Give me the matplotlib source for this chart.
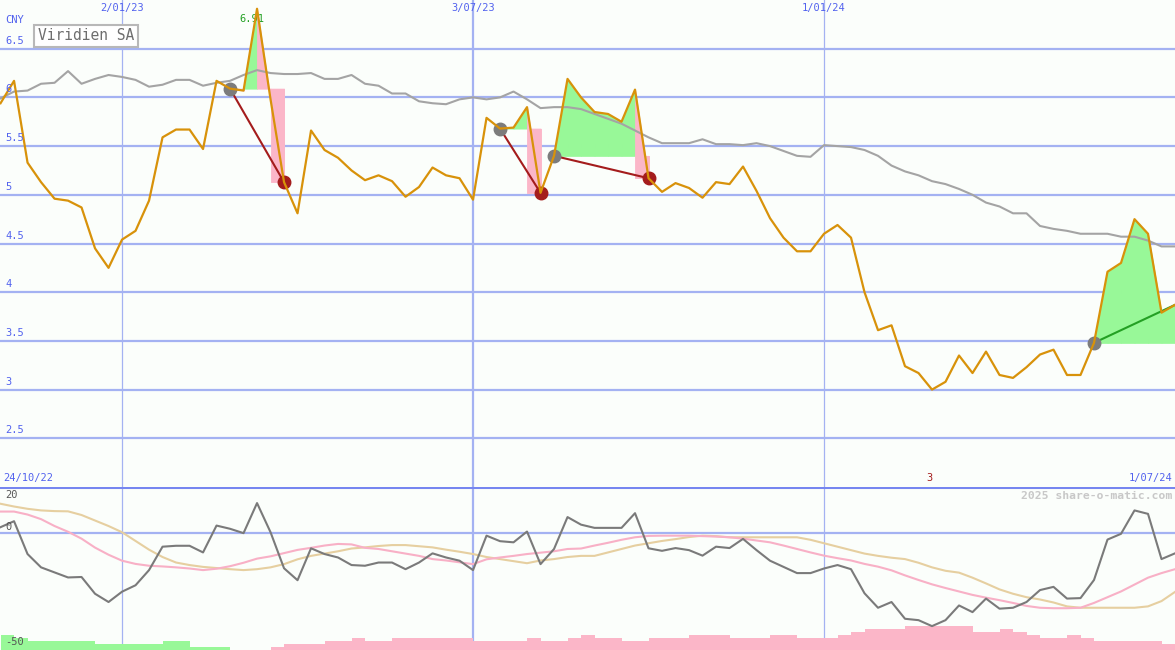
import numpy as np
import matplotlib.pyplot as plt
from matplotlib.transforms import blended_transform_factory

# weekly closes, CNY (index 0 = left edge of chart)
price = [5.94, 6.17, 5.33, 5.13, 4.96, 4.94, 4.87, 4.45, 4.25, 4.54,
         4.63, 4.94, 5.59, 5.67, 5.67, 5.47, 6.17, 6.09, 6.07, 6.91,
         5.98, 5.13, 4.81, 5.66, 5.46, 5.38, 5.25, 5.15, 5.20, 5.14,
         4.98, 5.08, 5.28, 5.20, 5.17, 4.95, 5.79, 5.68, 5.69, 5.90,
         5.02, 5.40, 6.19, 6.00, 5.85, 5.83, 5.75, 6.08, 5.17, 5.03,
         5.12, 5.07, 4.97, 5.13, 5.11, 5.29, 5.04, 4.76, 4.56, 4.42,
         4.42, 4.60, 4.69, 4.56, 4.00, 3.61, 3.66, 3.24, 3.17, 3.00,
         3.08, 3.35, 3.17, 3.39, 3.15, 3.12, 3.23, 3.36, 3.41, 3.15,
         3.15, 3.48, 4.21, 4.30, 4.75, 4.60, 3.79, 3.87]

# long moving average (grey)
ma = [5.99, 6.06, 6.07, 6.14, 6.15, 6.27, 6.14, 6.19, 6.23, 6.21,
      6.18, 6.11, 6.13, 6.18, 6.18, 6.12, 6.15, 6.17, 6.23, 6.28,
      6.25, 6.24, 6.24, 6.25, 6.19, 6.19, 6.23, 6.14, 6.12, 6.04,
      6.04, 5.96, 5.94, 5.93, 5.98, 6.00, 5.98, 6.00, 6.06, 5.98,
      5.89, 5.90, 5.90, 5.88, 5.83, 5.78, 5.73, 5.66, 5.59, 5.53,
      5.53, 5.53, 5.57, 5.52, 5.52, 5.51, 5.53, 5.50, 5.45, 5.40,
      5.39, 5.51, 5.50, 5.49, 5.46, 5.40, 5.30, 5.24, 5.20, 5.14,
      5.11, 5.06, 5.00, 4.92, 4.88, 4.81, 4.81, 4.68, 4.65, 4.63,
      4.60, 4.60, 4.60, 4.57, 4.57, 4.53, 4.47, 4.47]

# lower panel: oscillator and its two averages
osc = [2.5, 5.1, -9.2, -15.0, -17.2, -19.4, -19.2, -26.5, -30.1, -25.6,
       -22.8, -16.2, -6.0, -5.6, -5.6, -8.5, 3.2, 1.8, -0.1, 13.0,
       0.3, -15.4, -20.6, -6.7, -9.2, -10.7, -14.0, -14.3, -12.9, -12.9,
       -15.8, -12.9, -8.9, -10.7, -12.1, -16.2, -1.2, -3.6, -4.1, 0.6,
       -13.6, -7.0, 6.9, 3.6, 2.2, 2.2, 2.2, 8.6, -6.7, -7.8,
       -6.6, -7.5, -9.9, -6.0, -6.6, -2.6, -7.5, -12.1, -14.8, -17.5,
       -17.5, -15.5, -14.0, -15.8, -26.3, -32.6, -30.1, -37.4, -38.0, -40.6,
       -38.0, -31.6, -34.5, -28.6, -33.0, -32.6, -30.1, -24.9, -23.5, -28.6,
       -28.4, -20.5, -2.9, -0.4, 9.8, 8.3, -11.4, -8.9]

osc_pink = [9.3, 9.3, 8.0, 6.0, 3.0, 0.5, -2.5, -6.4, -9.5, -12.1,
            -13.5, -14.3, -14.6, -15.0, -15.5, -16.2, -15.6, -14.5, -13.0, -11.2,
            -10.2, -8.8, -7.4, -6.5, -5.5, -4.8, -5.0, -6.5, -7.0, -8.0,
            -9.0, -10.0, -11.4, -12.0, -12.8, -13.6, -11.5, -10.7, -10.0, -9.2,
            -8.6, -8.0, -7.0, -6.8, -5.5, -4.3, -3.0, -1.9, -1.3, -1.2,
            -1.2, -1.2, -1.4, -1.6, -1.9, -2.5, -3.3, -4.1, -5.5, -7.0,
            -8.5, -9.9, -11.0, -12.0, -13.5, -14.7, -16.3, -18.5, -20.5, -22.4,
            -24.0, -25.5, -27.0, -28.2, -29.3, -30.5, -31.8, -32.6, -32.8, -32.8,
            -32.6, -30.5, -28.0, -25.5, -22.5, -19.5, -17.5, -15.8]

osc_tan = [12.7, 11.5, 10.5, 9.8, 9.5, 9.4, 7.8, 5.4, 3.0, 0.3,
           -3.5, -7.3, -10.5, -12.9, -14.0, -14.8, -15.3, -15.8, -16.2, -15.8,
           -15.0, -13.6, -11.5, -10.0, -9.0, -8.0, -6.8, -6.3, -5.7, -5.3,
           -5.3, -5.8, -6.3, -7.3, -8.2, -9.2, -10.5, -11.4, -12.3, -13.2,
           -12.0, -11.4, -10.5, -10.0, -10.0, -8.5, -7.0, -5.5, -4.5, -3.5,
           -2.7, -1.8, -1.2, -1.4, -1.9, -1.9, -1.9, -1.9, -1.9, -1.9,
           -3.0, -4.5, -6.0, -7.5, -9.0, -10.0, -10.8, -11.4, -13.0, -15.0,
           -16.5, -17.3, -19.5, -22.0, -24.6, -26.5, -28.0, -29.0, -30.3, -32.0,
           -32.6, -32.6, -32.6, -32.6, -32.6, -32.0, -29.7, -25.7]

# bottom bars: positive = green, negative = pink
bar_level = [5, 4, 3, 3, 3, 3, 3, 2, 2, 2,
             2, 2, 3, 3, 1, 1, 1, 0, 0, 0,
             -1, -2, -2, -2, -3, -3, -4, -3, -3, -4,
             -4, -4, -4, -4, -4, -3, -3, -3, -3, -4,
             -3, -3, -4, -5, -4, -4, -3, -3, -4, -4,
             -4, -5, -5, -5, -4, -4, -4, -5, -5, -4,
             -4, -4, -5, -6, -7, -7, -7, -8, -8, -8,
             -8, -8, -6, -6, -7, -6, -5, -4, -4, -5,
             -4, -3, -3, -3, -3, -3, -2, -2]

date_pos = [9, 35, 61]
date_labels = ['2/01/23', '3/07/23', '1/01/24']
price_levels = [2.5, 3, 3.5, 4, 4.5, 5, 5.5, 6, 6.5]

# (entry week, exit week, first pink week)
closed_trades = [(17, 21, 19), (37, 40, 39), (41, 48, 47)]
open_trade = (81, 87)

BG = '#fbfefb'
GRID = '#a4b2f2'
BLUE_TXT = '#5262ee'
ORANGE = '#d8920a'
GREEN_F = '#98f898'
PINK_F = '#fbb6c8'
DKRED = '#a41c1c'
MONO = 'DejaVu Sans Mono'

x = np.arange(len(price))
price = np.array(price)

fig = plt.figure(figsize=(11.75, 6.5), dpi=100, facecolor=BG)
split = 163 / 650
ax = fig.add_axes([0, split, 1, 1 - split])
ax2 = fig.add_axes([0, 0, 1, split])
for a in (ax, ax2):
    a.set_facecolor(BG)
    a.set_xlim(-0.04, 87)
    a.set_xticks([])
    a.set_yticks([])
    for s in a.spines.values():
        s.set_visible(False)
ax.set_ylim(2.0, 7.0)
ax2.set_ylim(-51, 20)

# grid
for v in price_levels:
    ax.axhline(v, color=GRID, lw=1.6, zorder=1)
for p, lab in zip(date_pos, date_labels):
    w = 1.6 if lab == '3/07/23' else 0.9
    ax.axvline(p, color=GRID, lw=w, zorder=1)
    ax2.axvline(p, color=GRID, lw=w, zorder=1)
ax2.axhline(0, color=GRID, lw=1.6, zorder=1)
ax2.axhline(20, color='#7686f0', lw=2.2, zorder=6)


def seg_fill(x0, x1, p0, p1, lev, col_up, col_dn):
    if (p0 - lev) * (p1 - lev) < 0:
        xc = x0 + (lev - p0) / (p1 - p0) * (x1 - x0)
        parts = [(x0, xc, p0, lev), (xc, x1, lev, p1)]
    else:
        parts = [(x0, x1, p0, p1)]
    for xa, xb, pa, pb in parts:
        col = col_up if max(pa, pb) > lev else col_dn
        ax.fill_between([xa, xb], [pa, pb], lev, color=col, ec=col, lw=0.6,
                        zorder=2)


for a, b, pk in closed_trades:
    lev = price[a]
    for k in range(a, b):
        up = GREEN_F if k < pk else PINK_F
        seg_fill(x[k], x[k + 1], price[k], price[k + 1], lev, up, PINK_F)
    ax.fill_between([x[b - 1], x[b]], price[b], lev, color=PINK_F, ec=PINK_F,
                    lw=0.6, zorder=2)
    ax.plot([x[a], x[b]], [lev, price[b]], color=DKRED, lw=1.5, zorder=4)
    ax.plot(x[a], lev, 'o', ms=9, color='#7c7c7c', zorder=4)
    ax.plot(x[b], price[b], 'o', ms=9, color=DKRED, zorder=4)

a, b = open_trade
lev = price[a]
for k in range(a, b):
    seg_fill(x[k], x[k + 1], price[k], price[k + 1], lev, GREEN_F, GREEN_F)
ax.plot([x[a], x[b]], [lev, price[b]], color='#24a024', lw=1.5, zorder=4)
ax.plot(x[a], lev, 'o', ms=9, color='#7c7c7c', zorder=4)

ax.plot(x, ma, color='#a4a4a4', lw=1.5, zorder=3)
ax.plot(x, price, color=ORANGE, lw=1.6, zorder=5)

# labels on the price panel
tr = blended_transform_factory(ax.transAxes, ax.transData)
for v in price_levels:
    ax.text(5 / 1175, v + 0.03, f'{v:g}', transform=tr, color=BLUE_TXT,
            fontsize=7.5, family=MONO, va='bottom', ha='left', zorder=7)
ax.text(5 / 1175, 1 - 20 / 487, 'CNY', transform=ax.transAxes, color=BLUE_TXT,
        fontsize=7.5, family=MONO, va='center', ha='left')
for p, lab in zip(date_pos, date_labels):
    ax.annotate(lab, (p, 7.0), xytext=(0, -2), textcoords='offset points',
                color=BLUE_TXT, fontsize=7.5, family=MONO, ha='center', va='top')
ax.annotate('24/10/22', (0, 2.0), xytext=(2, 3), textcoords='offset points',
            color=BLUE_TXT, fontsize=7.5, family=MONO, ha='left', va='bottom')
ax.annotate('1/07/24', (87, 2.0), xytext=(-2, 3), textcoords='offset points',
            color=BLUE_TXT, fontsize=7.5, family=MONO, ha='right', va='bottom')
ax.annotate('3', (68.8, 2.0), xytext=(0, 3), textcoords='offset points',
            color=DKRED, fontsize=7.5, family=MONO, ha='center', va='bottom')
ax.annotate(f'{price[19]:.2f}', (x[19], price[19]), xytext=(-4, -4),
            textcoords='offset points', color='#22a022', fontsize=7.5,
            family=MONO, ha='center', va='top', zorder=3)
ax.text(86 / 1175, 1 - 36 / 487, 'Viridien SA', transform=ax.transAxes,
        color='#6e6e6e', fontsize=10.5, family=MONO, ha='center', va='center',
        zorder=8, bbox=dict(boxstyle='square,pad=0.25', fc='white',
                            ec='#b8b8b8', lw=1.5))

# lower panel
bars = np.array(bar_level) * 3 / 2.296
cols = [GREEN_F if v > 0 else PINK_F for v in bar_level]
ax2.bar(x + 0.5, np.abs(bars), width=1.0, bottom=-51, color=cols, lw=0, zorder=2)
ax2.plot(x, osc_tan, color='#e6cfa0', lw=1.5, zorder=3)
ax2.plot(x, osc_pink, color='#f8b0c6', lw=1.5, zorder=3)
ax2.plot(x, osc, color='#7a7a7a', lw=1.5, zorder=4)

tr2 = blended_transform_factory(ax2.transAxes, ax2.transData)
for v, lab in [(16.3, '20'), (0.5, '0'), (-47.5, '-50')]:
    ax2.text(5 / 1175, v, lab, transform=tr2, color='#555555', fontsize=7.5,
             family=MONO, va='center' if v != 0.5 else 'bottom', ha='left',
             zorder=7)
ax2.text(1172 / 1175, 1 - 9 / 163, '2025 share-o-matic.com', transform=ax2.transAxes,
         color='#c8c8c8', fontsize=8.2, family=MONO, weight='bold',
         ha='right', va='center', zorder=7)

fig.savefig('out.png', dpi=100, facecolor=BG)
